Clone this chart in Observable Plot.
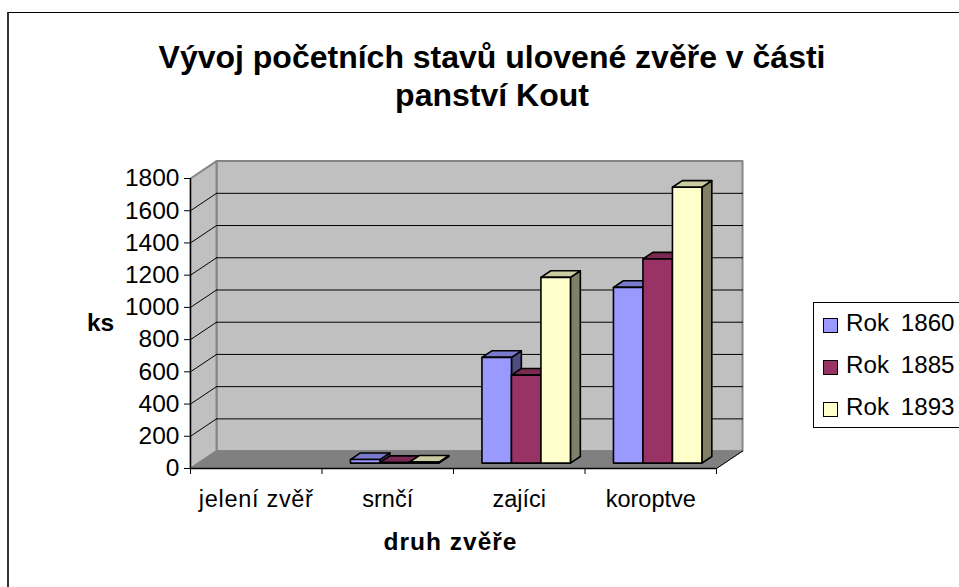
<!DOCTYPE html>
<html><head><meta charset="utf-8">
<script src="https://cdn.jsdelivr.net/npm/d3@7"></script>
<script src="https://cdn.jsdelivr.net/npm/@observablehq/plot@0.6"></script>
<style>
html,body{margin:0;padding:0;background:#fff;overflow:hidden}
#wrap{position:relative;width:959px;height:587px;overflow:hidden;font-family:"Liberation Sans",Arial,sans-serif;color:#000}
#frame{position:absolute;left:7px;top:12px;width:1000px;height:700px;border:1px solid #000;border-left:2px solid #333;box-sizing:border-box}
#title{position:absolute;left:0;width:984px;top:38px;text-align:center;font-weight:bold;font-size:32px;line-height:38px;white-space:nowrap}
#legend{position:absolute;left:813px;top:302px;width:160px;height:126px;border:1px solid #000;box-sizing:border-box}
#legend div{position:absolute;left:0;font-size:24.2px;line-height:28px;white-space:pre;word-spacing:5px}
#legend i{position:absolute;left:9px;top:9px;width:15px;height:15px;border:1.5px solid #000;box-sizing:border-box}
#legend span{position:absolute;left:32px;top:0}
svg{position:absolute;left:0;top:0}
</style></head><body>
<div id="wrap"><div id="frame"></div>
<div id="title">Vývoj početních stavů ulovené zvěře v části<br>panství Kout</div>
<div id="chart"></div><div id="legend"></div></div>
<script>
const categories=["jelení zvěř","srnčí","zajíci","koroptve"];
const series=["Rok 1860","Rok 1885","Rok 1893"];
const v1860=[0,22,656,1091];
const v1885=[0,4,546,1267];
const v1893=[0,6,1153,1712];
const frontColors=["#9999ff","#993366","#ffffcc"];
const topColors=["#7a7acc","#7a2952","#cccca3"];
const sideColors=["#4d4d80","#4d1a33","#808066"];
const yTicks=[0,200,400,600,800,1000,1200,1400,1600,1800];
const values=[v1860,v1885,v1893];

// oblique projection: depth 0 = front plane, 1 = back wall
const depthX=0.198, depthY=108;
const P=(x,v,d)=>({x:x+d*depthX,y:v+d*depthY});
const yMax=1800;
const poly=(id,pts)=>pts.map(p=>({id,...p}));
const closed=(data,o)=>Plot.line(data,{x:"x",y:"y",z:"id",curve:"linear-closed",...o});

const wall=poly("back",[P(0,0,1),P(4,0,1),P(4,yMax,1),P(0,yMax,1)]);
const side=poly("side",[P(0,0,0),P(0,0,1),P(0,yMax,1),P(0,yMax,0)]);
const floor=poly("floor",[P(0,0,0),P(4,0,0),P(4,0,1),P(0,0,1)]);

const d0=0.31,d1=0.69,barW=0.2243,gapL=0.155;
const faceMarks=[];
categories.forEach((c,i)=>series.forEach((s,j)=>{
  const val=values[j][i]; if(!val) return;
  const a=i+gapL+j*barW,b=a+barW,k=`${i}-${j}`;
  faceMarks.push(closed(poly(k,[P(b,0,d0),P(b,val,d0),P(b,val,d1),P(b,0,d1)]),{fill:sideColors[j],stroke:"#000",strokeWidth:1.6}));
  faceMarks.push(closed(poly(k,[P(a,val,d0),P(b,val,d0),P(b,val,d1),P(a,val,d1)]),{fill:topColors[j],stroke:"#000",strokeWidth:1.6}));
  faceMarks.push(closed(poly(k,[P(a,0,d0),P(b,0,d0),P(b,val,d0),P(a,val,d0)]),{fill:frontColors[j],stroke:"#000",strokeWidth:1.6}));
}));
const inner=yTicks.filter(t=>t>0&&t<yMax);

const chart=Plot.plot({
  width:959,height:587,
  marginLeft:190,marginRight:243,marginTop:178,marginBottom:119,
  style:{background:"transparent",fontFamily:'"Liberation Sans",Arial,sans-serif',overflow:"visible"},
  x:{domain:[0,4],axis:null},
  y:{domain:[0,yMax],axis:null},
  marks:[
    closed(wall,{fill:"#c0c0c0",stroke:"#868686",strokeWidth:2}),
    closed(side,{fill:"#c0c0c0",stroke:"#868686",strokeWidth:2}),
    closed(floor,{fill:"#808080",stroke:"#808080",strokeWidth:1}),
    Plot.line(inner.flatMap(t=>[{id:t,...P(0,t,1)},{id:t,...P(4,t,1)}]),{x:"x",y:"y",z:"id",stroke:"#000",strokeWidth:1}),
    Plot.line(inner.flatMap(t=>[{id:t,...P(0,t,0)},{id:t,...P(0,t,1)}]),{x:"x",y:"y",z:"id",stroke:"#000",strokeWidth:1}),
    ...faceMarks,
    Plot.line([P(4,0,0),P(4,0,1)],{x:"x",y:"y",stroke:"#000",strokeWidth:1}),
    Plot.ruleY([0],{stroke:"#000",strokeWidth:1.3}),
    Plot.ruleX([0],{stroke:"#000",strokeWidth:1.3}),
    Plot.axisY({ticks:yTicks,tickSize:6,tickPadding:5,fontSize:24.5,label:null,tickFormat:d=>String(d),stroke:"#000"}),
    Plot.axisX({anchor:"bottom",ticks:[0,1,2,3,4],tickSize:6,tickFormat:()=>"",label:null,stroke:"#000"}),
    Plot.axisX({anchor:"bottom",ticks:[0.5,1.5,2.5,3.5],tickSize:0,tickPadding:22,fontSize:23.5,label:null,tickFormat:d=>categories[Math.floor(d)]}),
    Plot.text(["ks"],{x:0,y:900,dx:-90,fontSize:24.5,fontWeight:"bold"}),
    Plot.text(["druh zvěře"],{x:2,y:0,dy:74,dx:-3,fontSize:24.5,fontWeight:"bold"})
  ]
});
d3.select(chart).selectAll("text").filter(function(){return this.textContent==="jelení zvěř"}).style("letter-spacing","0.7px");
d3.select(chart).selectAll("text").filter(function(){return this.textContent==="druh zvěře"}).style("letter-spacing","1px");
document.getElementById("chart").append(chart);
const legend=document.getElementById("legend");
series.forEach((s,j)=>{
  const d=document.createElement("div");
  d.style.top=(6+j*42)+"px";
  const i=document.createElement("i");i.style.background=frontColors[j];
  const t=document.createElement("span");t.textContent=s;
  d.append(i,t);legend.append(d);
});
</script></body></html>
